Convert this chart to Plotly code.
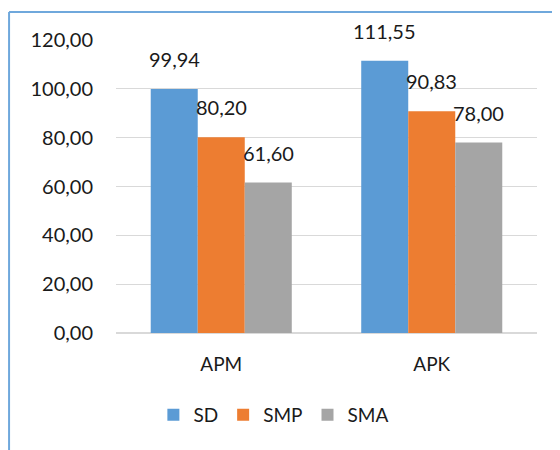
import plotly.graph_objects as go

categories = ["APM", "APK"]
series_names = ["SD", "SMP", "SMA"]
sd_values = [99.94, 111.55]
smp_values = [80.20, 90.83]
sma_values = [61.60, 78.00]
tick_values = [0, 20, 40, 60, 80, 100, 120]

colors = ["#5B9BD5", "#ED7D31", "#A5A5A5"]
all_values = [sd_values, smp_values, sma_values]
font_family = "Lato, 'Open Sans', sans-serif"

fig = go.Figure()
for name, vals, col in zip(series_names, all_values, colors):
    fig.add_trace(go.Bar(name=name, x=categories, y=vals, marker_color=col,
                         marker_line_width=0))

# data labels above bars
shifts = [-47, 0, 47]
for vals, xs in zip(all_values, shifts):
    for c, v in zip(categories, vals):
        fig.add_annotation(x=c, y=v, text=f"{v:.2f}".replace(".", ","),
                           showarrow=False, xshift=xs, yshift=16,
                           yanchor="bottom",
                           font=dict(size=20, color="#1a1a1a", family=font_family))

fig.update_layout(
    width=560, height=450,
    margin=dict(l=108, r=31, t=32, b=125),
    paper_bgcolor="white", plot_bgcolor="white",
    barmode="group", bargap=0.33, bargroupgap=0,
    separators=",.",
    font=dict(family=font_family, size=20, color="#1a1a1a"),
    legend=dict(orientation="h", x=0.375, xanchor="center", y=-0.215, yanchor="top",
                font=dict(size=19), itemwidth=30, traceorder="normal"),
    xaxis=dict(showgrid=False, showline=False, ticks="", tickfont=dict(size=19),
               ticklabelstandoff=18),
    yaxis=dict(range=[0, 120], tickvals=tick_values, tickformat=".2f",
               showgrid=True, gridcolor="#D9D9D9", gridwidth=1,
               zeroline=True, zerolinecolor="#D9D9D9", zerolinewidth=2,
               ticks="", ticklabelstandoff=22, tickfont=dict(size=20)),
    shapes=[
        dict(type="line", xref="paper", yref="paper", x0=-0.254, x1=1.1, y0=1.0956, y1=1.0956,
             line=dict(color="#6FA8DC", width=2)),
        dict(type="line", xref="paper", yref="paper", x0=-0.254, x1=-0.254, y0=1.0956, y1=-0.5,
             line=dict(color="#6FA8DC", width=2)),
    ],
)

fig.write_html("out.html")
